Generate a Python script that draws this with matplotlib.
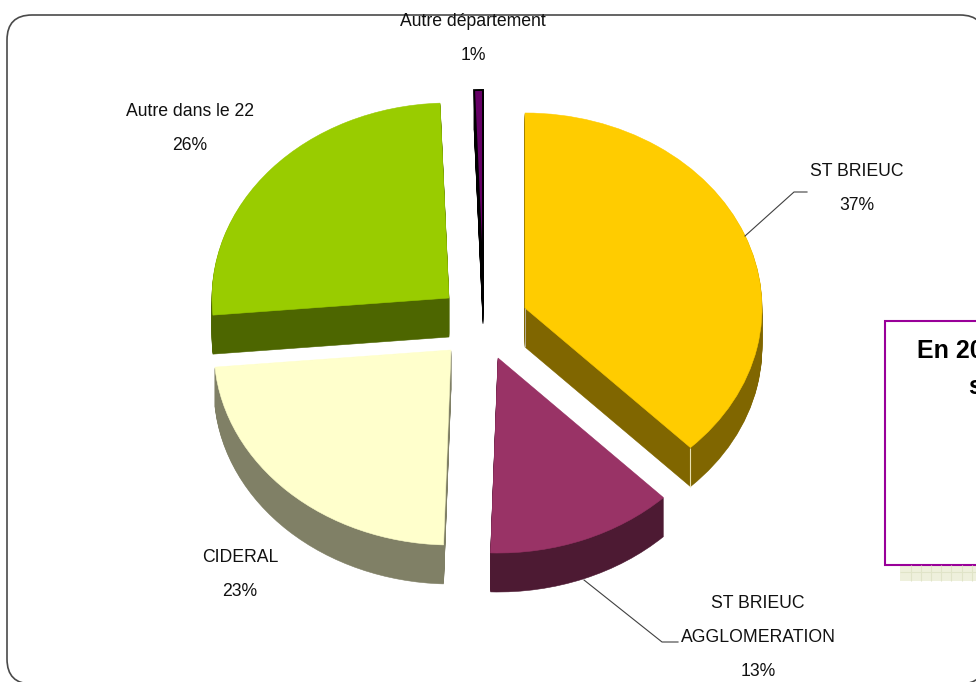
import matplotlib.pyplot as plt
import numpy as np
from matplotlib.patches import FancyBboxPatch, Rectangle

# slice shares as measured on the drawing, printed labels below
names = ["ST BRIEUC", "ST BRIEUC\nAGGLOMERATION", "CIDERAL", "Autre dans le 22", "Autre département"]
shares = [37.7, 12.8, 23.1, 25.8, 0.6]
percents = ["37%", "13%", "23%", "26%", "1%"]

top_colors = ["#FFCC00", "#993366", "#FFFFCC", "#99CC00", "#660066"]
side_colors = ["#806600", "#4D1A33", "#808066", "#4D6600", "#000000"]

W, H = 976, 682
RX, RY = 237, 195
DEPTH = 39
apexes = [(525, 308), (498, 358), (451, 350), (449, 298), (483, 285)]
label_pos = [(857, 172), (758, 604), (240, 558), (190, 112), (473, 22)]


def to_data(px, py):
    return px / RX, (H - py) / RY


def draw_layer(ax, colors, depth):
    wedges, _ = ax.pie(
        shares,
        colors=colors,
        startangle=90,
        counterclock=False,
        radius=1,
    )
    for wedge, color, (px, py) in zip(wedges, colors, apexes):
        wedge.set_center(to_data(px, py + depth))
        wedge.set_edgecolor(color)
        wedge.set_linewidth(0.4)
    return wedges


fig = plt.figure(figsize=(W / 100, H / 100), dpi=100, facecolor="white")

# overlay in pixel coords for frame, box and labels
back = fig.add_axes([0, 0, 1, 1])
back.set_xlim(0, W)
back.set_ylim(H, 0)
back.axis("off")
back.add_patch(
    FancyBboxPatch(
        (32, 40), 928, 619,
        boxstyle="round,pad=25,rounding_size=25",
        fc="white", ec="#4A4A4A", lw=1.2,
    )
)

ax = fig.add_axes([0, 0, 1, 1])
ax.patch.set_visible(False)
for d in range(DEPTH, 0, -1):
    draw_layer(ax, side_colors, d)
top = draw_layer(ax, top_colors, 0)
top[-1].set_edgecolor("black")
top[-1].set_linewidth(1.4)
ax.set_aspect("auto")
ax.set_xlim(0, W / RX)
ax.set_ylim(0, H / RY)
ax.axis("off")

over = fig.add_axes([0, 0, 1, 1])
over.patch.set_visible(False)
over.set_xlim(0, W)
over.set_ylim(H, 0)
over.axis("off")

# seams on the yellow slice walls
over.vlines(690.3, 448, 487, color="#E8E0B0", lw=0.8)
over.vlines(524.6, 308, 347, color="#B8B098", lw=0.7)

# leader lines
over.plot([745, 794, 807], [236, 192, 192], color="#404040", lw=0.8)
over.plot([584, 662, 678], [580, 642, 642], color="#404040", lw=0.8)

# text box cut off by the right edge
over.add_patch(Rectangle((900, 565), 80, 16, fc="#EEF0DC", ec="none"))
over.vlines(np.arange(910.5, 976, 10.2), 565, 581, color="#E0E4C8", lw=0.8)
over.hlines(571.5, 900, 976, color="#E0E4C8", lw=0.8)
over.add_patch(Rectangle((885, 321), 110, 243.5, fc="white", ec="#990099", lw=1.5))
over.text(917, 351, "En 20", fontsize=18, fontweight="bold", family="Liberation Sans",
          ha="left", va="center", color="black")
over.text(968, 387, "s", fontsize=18, fontweight="bold", family="Liberation Sans",
          ha="left", va="center", color="black")

for name, pct, (lx, ly) in zip(names, percents, label_pos):
    lines = name.split("\n") + [pct]
    for i, line in enumerate(lines):
        over.text(lx, ly + i * 33.5, line, fontsize=12.7, family="Liberation Sans",
                  ha="center", va="center", color="#111111")

fig.savefig("out.png", dpi=100)
